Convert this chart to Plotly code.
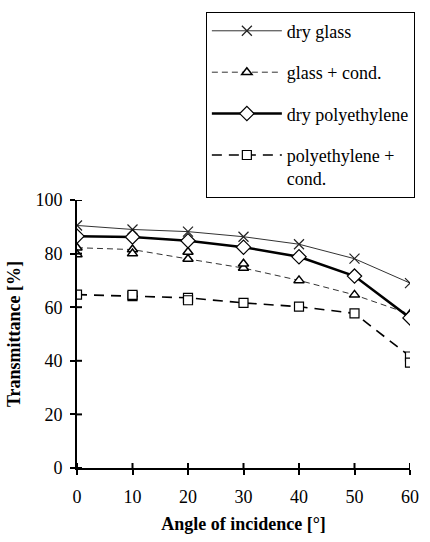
import plotly.graph_objects as go

angles = [0, 10, 20, 30, 40, 50, 60]
dry_glass = [90.5, 89.0, 88.2, 86.3, 83.5, 78.1, 69.0]
glass_cond = [82.2, 81.5, 78.0, 74.6, 70.0, 64.6, 57.4]
glass_cond_rep = [79.7, 80.0, 80.6, 76.2, None, None, None]
dry_pe = [86.5, 86.2, 84.8, 82.4, 78.8, 71.6, 56.0]
pe_cond = [64.7, 64.1, 63.5, 61.6, 60.2, 57.7, 41.6]
pe_cond_rep = [None, 64.6, 62.6, None, None, None, 39.3]

x_ticks = [0, 10, 20, 30, 40, 50, 60]
y_ticks = [0, 20, 40, 60, 80, 100]

FONT = "Liberation Serif"
fig = go.Figure()

fig.add_trace(go.Scatter(
    x=angles, y=dry_glass, name="dry glass", mode="lines+markers",
    line=dict(color="#333333", width=1),
    marker=dict(symbol="x-thin-open", size=10, color="#222222", line=dict(width=1.2, color="#222222")),
    legendgroup="a"))
fig.add_trace(go.Scatter(
    x=angles, y=glass_cond, name="glass + cond.", mode="lines+markers",
    line=dict(color="#333333", width=1, dash="6px,4px"),
    marker=dict(symbol="triangle-up", size=9, color="white", line=dict(width=1.5, color="black")),
    legendgroup="b"))
fig.add_trace(go.Scatter(
    x=angles, y=glass_cond_rep, name="glass + cond. (rep)", mode="markers", showlegend=False,
    marker=dict(symbol="triangle-up", size=9, color="white", line=dict(width=1.5, color="black")),
    legendgroup="b"))
fig.add_trace(go.Scatter(
    x=angles, y=dry_pe, name="dry polyethylene", mode="lines+markers",
    line=dict(color="black", width=2.5),
    marker=dict(symbol="diamond", size=11, color="white", line=dict(width=1.2, color="black")),
    legendgroup="c"))
fig.add_trace(go.Scatter(
    x=angles, y=pe_cond, name="polyethylene +<br>cond.", mode="lines+markers",
    line=dict(color="black", width=1.6, dash="10px,7px"),
    marker=dict(symbol="square", size=9, color="white", line=dict(width=1.2, color="black")),
    legendgroup="d"))
fig.add_trace(go.Scatter(
    x=angles, y=pe_cond_rep, name="polyethylene + cond. (rep)", mode="markers", showlegend=False,
    marker=dict(symbol="square", size=9, color="white", line=dict(width=1.2, color="black")),
    legendgroup="d"))

axis_common = dict(showgrid=False, zeroline=False, showline=True, linecolor="black", linewidth=2,
                   ticks="outside", ticklen=5, tickwidth=2, tickcolor="black",
                   tickfont=dict(family=FONT, size=18, color="black"))

# inward half of the crossing tick marks, placed on the axes' own scales
for v in x_ticks:
    fig.add_shape(type="line", xref="x", yref="y", x0=v, x1=v,
                  ysizemode="pixel", yanchor=0, y0=0, y1=5,
                  line=dict(color="black", width=2), layer="above")
for v in y_ticks:
    fig.add_shape(type="line", xref="x", yref="y", y0=v, y1=v,
                  xsizemode="pixel", xanchor=0, x0=0, x1=5,
                  line=dict(color="black", width=2), layer="above")

fig.update_layout(
    width=430, height=542,
    margin=dict(l=77, r=11, t=200, b=69),
    paper_bgcolor="white", plot_bgcolor="white",
    font=dict(family=FONT, size=18, color="black"),
    xaxis=dict(range=[0, 60], tickvals=x_ticks, ticktext=[str(v) for v in x_ticks],
               title=dict(text="<b>Angle of incidence [°]</b>", font=dict(family=FONT, size=18), standoff=12),
               ticklabelstandoff=6, **axis_common),
    yaxis=dict(range=[0, 100], tickvals=y_ticks, ticktext=[str(v) for v in y_ticks],
               title=dict(text="<b>Transmittance [%]</b>", font=dict(family=FONT, size=18), standoff=10),
               ticklabelstandoff=4, **axis_common),
    legend=dict(x=1.0146, xanchor="right", y=1.703, yanchor="top",
                bgcolor="white", bordercolor="black", borderwidth=1,
                font=dict(family=FONT, size=18, color="black"),
                itemwidth=70, tracegroupgap=15, valign="top",
                traceorder="grouped"),
    showlegend=True,
)

fig.write_html("out.html")
